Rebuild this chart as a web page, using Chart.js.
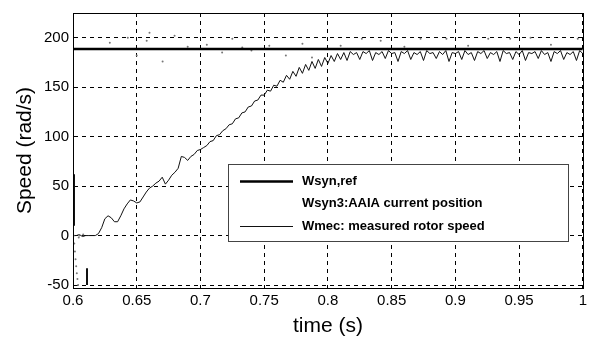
<!DOCTYPE html>
<html>
<head>
<meta charset="utf-8">
<script src="https://cdn.jsdelivr.net/npm/chart.js@4.4.0/dist/chart.umd.min.js"></script>
<style>
  html, body { margin: 0; padding: 0; background: #fff; }
</style>
</head>
<body>
<canvas id="myChart" width="591" height="339"></canvas>
<script>
// tick labels
var xTicks = [0.6, 0.65, 0.7, 0.75, 0.8, 0.85, 0.9, 0.95, 1];
var yTicks = [-50, 0, 50, 100, 150, 200];

// Wsyn,ref : constant reference speed
var refTime = [0.6, 1];
var refSpeed = [188.5, 188.5];

// Wsyn3 : sparse estimated positions (dots)
var wsyn3Time = [0.6005, 0.601, 0.6015, 0.602, 0.6025, 0.603, 0.6035, 0.604, 0.6045, 0.605, 0.608,
  0.6289, 0.643, 0.65, 0.6578, 0.66, 0.6703, 0.6797, 0.69, 0.705, 0.717, 0.725, 0.7328, 0.74,
  0.754, 0.767, 0.78, 0.7875, 0.81, 0.8266, 0.8414, 0.86, 0.8727, 0.893, 0.91, 0.9258, 0.943,
  0.959, 0.975, 0.996];
var wsyn3Speed = [0, -8, -16, -24, -31, -38, -44, -50, -2, 0, 1,
  195, 200, 182, 197, 205, 176, 202, 191, 193, 185, 199, 190, 187,
  192, 182, 194, 180, 192, 199, 197, 191, 199, 199, 192, 199, 199,
  200, 193, 199];

// Wmec : measured rotor speed, one value every 2.5 ms from 0.6 s
var wmecStart = 0.6;
var wmecStep = 0.0025;
var wmecSpeed = [
  0, 0, 1, -1, 0, 0, 0, 0, 2, 8,
  17, 20, 18, 14, 14, 20, 27, 32, 36, 35,
  33, 34, 39, 44, 48, 50, 53, 55, 59, 52,
  56, 61, 64, 68, 80, 79, 76, 80, 82, 86,
  87, 89, 91, 95, 96, 101, 102, 106, 108, 112,
  113, 118, 119, 124, 125, 130, 131, 136, 137, 142,
  142, 147, 146, 152, 151, 157, 155, 162, 158, 166,
  161, 170, 164, 173, 167, 176, 169, 178, 171, 180,
  174, 182, 176, 184, 178, 185, 177, 186, 183, 185,
  178, 186, 184, 187, 177, 185, 183, 186, 179, 187,
  184, 185, 176, 186, 184, 187, 178, 185, 183, 186,
  177, 187, 184, 185, 179, 186, 183, 187, 176, 185,
  184, 186, 178, 187, 183, 185, 177, 186, 184, 187,
  179, 185, 183, 186, 176, 187, 184, 185, 178, 186,
  183, 187, 177, 185, 184, 186, 179, 187, 183, 185,
  176, 186, 184, 187, 178, 185, 183, 186, 177, 187,
  184
];

// start-up spikes of the measured speed
var spikeTime = [0.6008, 0.6008, null, 0.611, 0.611];
var spikeSpeed = [10, 62, null, -33, -50];

function pairs(xs, ys) {
  var out = [];
  for (var i = 0; i < xs.length; i++) {
    out.push({ x: xs[i], y: ys[i] });
  }
  return out;
}

var wmecData = wmecSpeed.map(function (v, i) {
  return { x: +(wmecStart + i * wmecStep).toFixed(4), y: v };
});
var spikeData = spikeTime.map(function (t, i) {
  return { x: t === null ? 0.605 : t, y: spikeSpeed[i] };
});

var FONT = '"Liberation Sans", Arial, sans-serif';

// frame + legend box drawn inside the plot like MATLAB
var boxLegend = {
  id: 'boxLegend',
  afterDraw: function (chart) {
    var ctx = chart.ctx;
    var a = chart.chartArea;
    ctx.save();
    ctx.strokeStyle = '#000';
    ctx.lineWidth = 1;
    ctx.setLineDash([]);
    ctx.strokeRect(Math.round(a.left) + 0.5, Math.round(a.top) + 0.5,
      Math.round(a.right - a.left), Math.round(a.bottom - a.top));

    var x0 = 228, y0 = 164, w = 340, h = 77;
    ctx.fillStyle = '#fff';
    ctx.fillRect(x0, y0, w, h);
    ctx.strokeStyle = '#444';
    ctx.strokeRect(x0 + 0.5, y0 + 0.5, w, h);
    ctx.font = 'bold 13px ' + FONT;
    ctx.textBaseline = 'middle';
    ctx.fillStyle = '#000';
    var rows = [181, 203, 226];
    var k = 0;
    chart.data.datasets.forEach(function (ds) {
      if (ds.noLegend) return;
      var y = rows[k++];
      if (ds.showLine !== false) {
        ctx.strokeStyle = ds.borderColor;
        ctx.lineWidth = ds.borderWidth;
        ctx.beginPath();
        ctx.moveTo(240, y + 0.5);
        ctx.lineTo(293, y + 0.5);
        ctx.stroke();
      }
      ctx.fillStyle = '#000';
      ctx.fillText(ds.label, 302, y);
    });
    ctx.restore();
  }
};

var ctx = document.getElementById('myChart').getContext('2d');
var myChart = new Chart(ctx, {
  type: 'line',
  data: {
    datasets: [{
      label: 'Wsyn,ref',
      data: pairs(refTime, refSpeed),
      borderColor: '#000',
      borderWidth: 2.5,
      pointRadius: 0
    }, {
      label: 'Wsyn3:AAIA current position',
      data: pairs(wsyn3Time, wsyn3Speed),
      showLine: false,
      pointRadius: 1,
      pointBorderWidth: 0,
      pointBackgroundColor: '#777',
      borderColor: 'rgba(0,0,0,0)'
    }, {
      label: 'Wmec: measured rotor speed',
      data: wmecData,
      borderColor: '#111',
      borderWidth: 1,
      pointRadius: 0
    }, {
      label: 'spikes',
      noLegend: true,
      data: spikeData,
      borderColor: '#111',
      borderWidth: 2,
      pointRadius: 0,
      spanGaps: false
    }]
  },
  options: {
    responsive: false,
    animation: false,
    devicePixelRatio: 1,
    layout: { padding: { left: 0, right: 6, top: 7, bottom: 0 } },
    plugins: {
      legend: { display: false },
      tooltip: { enabled: false }
    },
    elements: { line: { tension: 0 } },
    scales: {
      x: {
        type: 'linear',
        min: 0.6,
        max: 1,
        afterBuildTicks: function (scale) {
          scale.ticks = xTicks.map(function (v) { return { value: v }; });
        },
        afterFit: function (scale) { scale.height = 51; },
        ticks: {
          color: '#000',
          font: { family: FONT, size: 15 },
          padding: 4,
          maxRotation: 0,
          callback: function (v) { return String(v); }
        },
        grid: { color: '#000', lineWidth: 1, drawTicks: false },
        border: { display: true, color: '#000', dash: [4, 4] },
        title: {
          display: true,
          text: 'time (s)',
          color: '#000',
          font: { family: FONT, size: 21 },
          padding: { top: 2, bottom: 0 }
        }
      },
      y: {
        type: 'linear',
        min: -53,
        max: 225,
        afterBuildTicks: function (scale) {
          scale.ticks = yTicks.map(function (v) { return { value: v }; });
        },
        afterFit: function (scale) { scale.width = 73; },
        ticks: {
          color: '#000',
          font: { family: FONT, size: 15 },
          padding: 4
        },
        grid: { color: '#000', lineWidth: 1, drawTicks: false },
        border: { display: true, color: '#000', dash: [4, 4] },
        title: {
          display: true,
          text: 'Speed (rad/s)',
          color: '#000',
          font: { family: FONT, size: 21 },
          padding: { top: 13, bottom: 0 }
        }
      }
    }
  },
  plugins: [boxLegend]
});
</script>
</body>
</html>
